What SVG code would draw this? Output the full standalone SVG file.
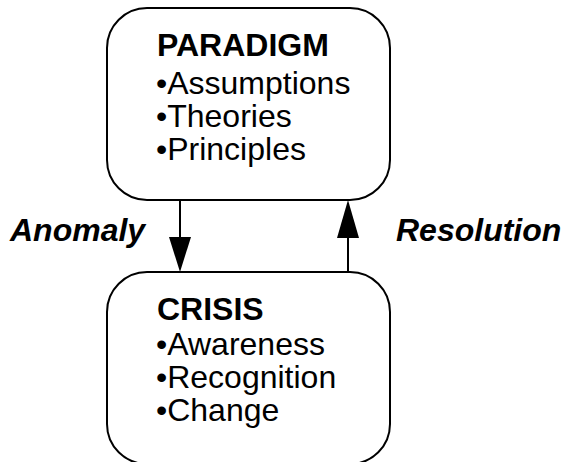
<svg xmlns="http://www.w3.org/2000/svg" width="564" height="462" viewBox="0 0 564 462">
<defs>
<style>
.box{fill:#fff;stroke:#000;stroke-width:2}
.t{font-family:"Liberation Sans",Arial,sans-serif;font-size:32px;fill:#000}
.h{font-weight:bold}
.lbl{font-family:"Liberation Sans",Arial,sans-serif;font-size:32px;font-weight:bold;font-style:italic;fill:#000}
.c{stroke:#000;stroke-width:2;fill:none}
.head{fill:#000}
</style>
</defs>
<rect width="564" height="462" fill="#fff"/>
<g id="paradigm">
<rect class="box" x="107" y="8" width="283" height="192" rx="40" ry="40"/>
<text class="t h" x="157" y="56">PARADIGM</text>
<text class="t" x="156" y="94">•Assumptions</text>
<text class="t" x="156" y="127">•Theories</text>
<text class="t" x="156" y="160">•Principles</text>
</g>
<g id="crisis">
<rect class="box" x="107" y="272" width="283" height="192" rx="40" ry="40"/>
<text class="t h" x="157" y="320">CRISIS</text>
<text class="t" x="156" y="355">•Awareness</text>
<text class="t" x="156" y="388">•Recognition</text>
<text class="t" x="156" y="421">•Change</text>
</g>
<g id="connectors">
<line class="c" x1="180" y1="200" x2="180" y2="240"/>
<polygon class="head" points="169,237 191,237 180,272"/>
<line class="c" x1="348" y1="272" x2="348" y2="236"/>
<polygon class="head" points="337,238 359,238 348,200"/>
<text class="lbl" x="10" y="241">Anomaly</text>
<text class="lbl" x="396" y="241">Resolution</text>
</g>
</svg>
